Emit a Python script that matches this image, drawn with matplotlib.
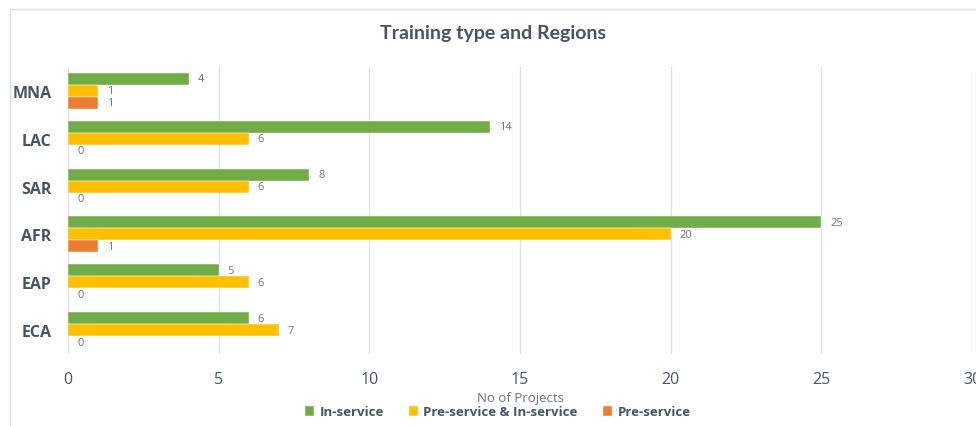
import matplotlib
matplotlib.use('Agg')
import matplotlib.pyplot as plt
import numpy as np
from matplotlib.patches import Rectangle

regions = ['ECA', 'EAP', 'AFR', 'SAR', 'LAC', 'MNA']
in_service = [6, 5, 25, 8, 14, 4]
pre_and_in = [7, 6, 20, 6, 6, 1]
pre_service = [0, 0, 1, 0, 0, 1]
series_names = ['In-service', 'Pre-service & In-service', 'Pre-service']
colors = ['#70AD47', '#FFC000', '#ED7D31']

text_col = '#44546A'
label_col = '#6B7280'
grid_col = '#DCE1E8'

plt.rcParams['font.family'] = ['Open Sans', 'DejaVu Sans']

fig = plt.figure(figsize=(9.76, 4.27), dpi=100)
ax = fig.add_axes([0.0697, 0.1686, 0.9262, 0.6721])

# chart frame (right and bottom edges run off the image)
fig.patches.append(Rectangle((10 / 976, -0.05), 1.2, 1 - 10 / 427 + 0.05,
                             transform=fig.transFigure, fill=False,
                             edgecolor='#D9DEE6', linewidth=1))

y = np.arange(len(regions))
h = 0.25
series = [in_service, pre_and_in, pre_service]
offsets = [h, 0, -h]
for vals, off, col, name in zip(series, offsets, colors, series_names):
    bars = ax.barh(y + off, vals, height=h, color=col, label=name,
                   edgecolor='white', linewidth=0.3, zorder=3)
    for b, v in zip(bars, vals):
        ax.text(v + 0.3, b.get_y() + b.get_height() / 2, str(v),
                va='center', ha='left', fontsize=8, color=label_col, zorder=4)

ax.set_xlim(0, 30)
ax.set_ylim(-0.5, 5.5)
ax.set_xticks([0, 5, 10, 15, 20, 25, 30])
ax.set_yticks(y)
ax.set_yticklabels(regions, fontsize=11.5, fontweight='bold', color=text_col)
ax.tick_params(axis='x', labelsize=11.5, colors=text_col, length=0, pad=12)
ax.tick_params(axis='y', length=0, pad=12)
ax.grid(axis='x', color=grid_col, linewidth=1, zorder=0)
for s in ax.spines.values():
    s.set_visible(False)

# axis title sits just above the legend
fig.text(ax.get_position().x0 + ax.get_position().width * 0.5, 1 - 399 / 427,
         'No of Projects', ha='center', va='center', fontsize=9.5,
         color=label_col)
fig.text(0.5 + 10 / 976 / 2, 1 - 33 / 427, 'Training type and Regions',
         ha='center', va='center', fontsize=14, fontweight='bold',
         color=text_col, family=['Lato', 'DejaVu Sans'])

leg = fig.legend(loc='center', bbox_to_anchor=(0.51, 1 - 413 / 427), ncol=3,
                 frameon=False, fontsize=9.5, handlelength=0.7, handleheight=0.7,
                 handletextpad=0.4, columnspacing=1.9, borderpad=0)
for t in leg.get_texts():
    t.set_color(text_col)
    t.set_fontweight('bold')

fig.savefig('out.png', dpi=100)
